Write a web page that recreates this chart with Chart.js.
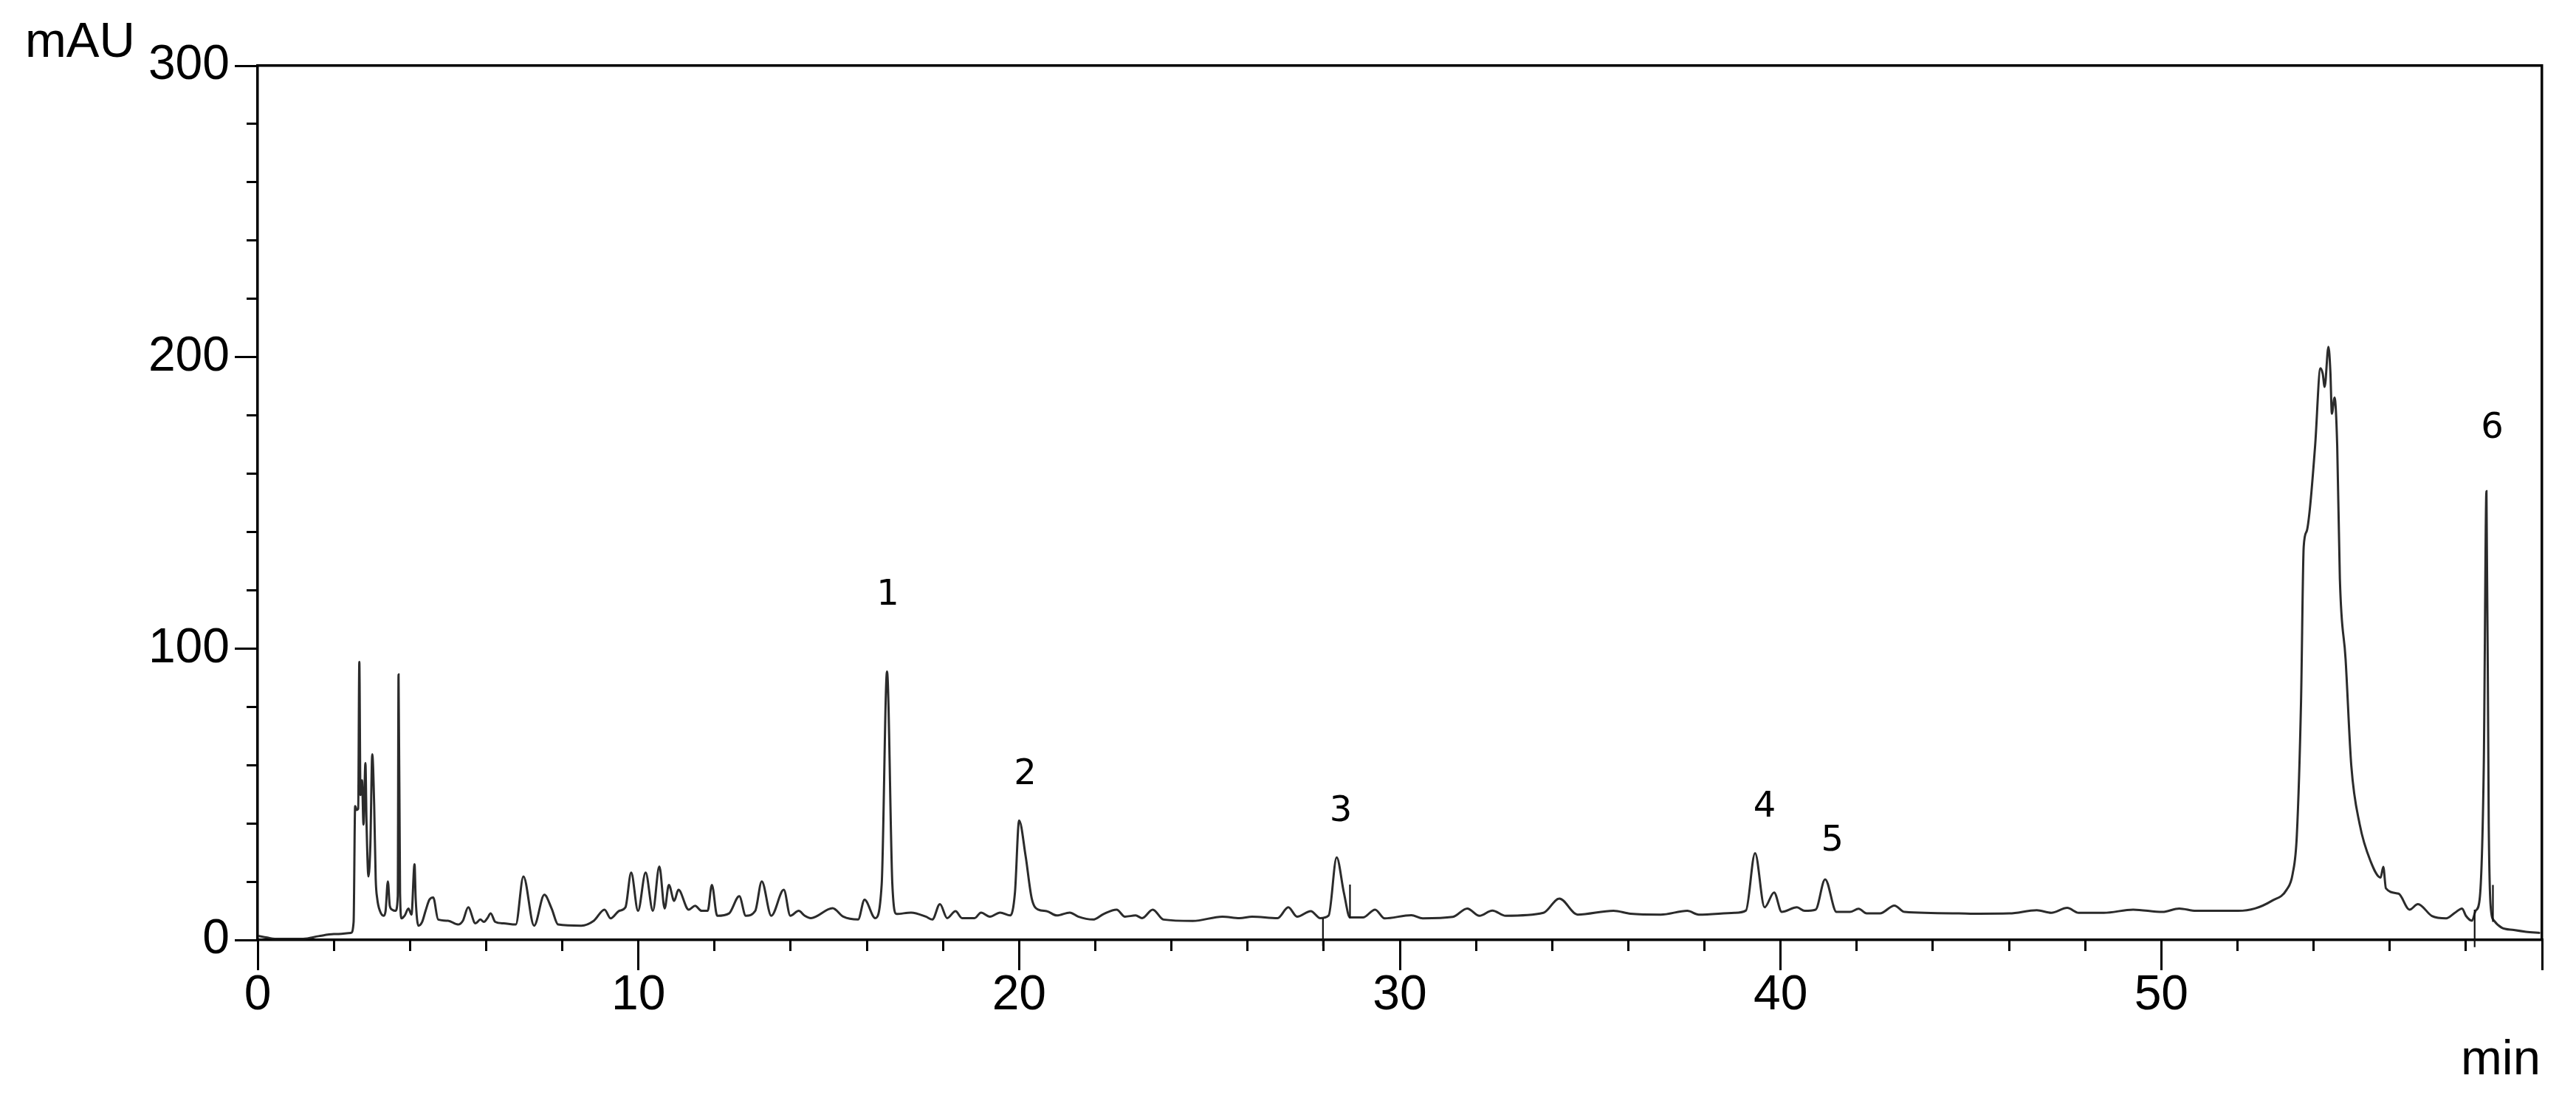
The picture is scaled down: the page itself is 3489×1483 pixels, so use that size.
<!DOCTYPE html>
<html>
<head>
<meta charset="utf-8">
<script src="https://cdn.jsdelivr.net/npm/chart.js@4.4.1/dist/chart.umd.min.js"></script>
<style>
  html, body { margin: 0; padding: 0; background: #fff; }
  #wrap { width: 3489px; height: 1483px; }
</style>
</head>
<body>
<div id="wrap"><canvas id="chromatogram" width="3489" height="1483"></canvas></div>
<script>
// retention time (min) and signal (mAU)
const retentionTime = [
  0, 0.25, 0.45, 1.2, 1.6, 2.0, 2.45,
  2.52, 2.56, 2.6, 2.64, 2.67, 2.7, 2.74, 2.78, 2.83, 2.86, 2.91, 2.96, 3.01, 3.06, 3.1,
  3.14, 3.21, 3.31, 3.36, 3.42, 3.47, 3.53, 3.62, 3.68, 3.7, 3.74, 3.78, 3.86, 3.96, 4.04,
  4.12, 4.15, 4.22, 4.32, 4.41, 4.51, 4.61, 4.74, 5.0, 5.26, 5.39, 5.53, 5.72, 5.85, 5.94, 6.03,
  6.12, 6.24, 6.46, 6.78, 6.98, 7.26, 7.53, 7.72, 7.89, 8.5, 8.83, 9.11, 9.27, 9.5, 9.66, 9.81, 9.99,
  10.19, 10.38, 10.55, 10.69, 10.8, 10.94, 11.05, 11.32, 11.49, 11.66, 11.82, 11.93, 12.07, 12.38, 12.65, 12.82,
  13.07, 13.24, 13.49, 13.82, 13.99, 14.21, 14.37, 14.53, 15.1, 15.38, 15.77, 15.94, 16.22, 16.39, 16.53, 16.67, 16.78,
  17.16, 17.55, 17.72, 17.92, 18.11, 18.33, 18.5, 18.83, 19.0, 19.23, 19.5, 19.77, 19.89, 20.0,
  20.17, 20.33, 20.5, 20.72, 20.99, 21.33, 21.55, 21.94, 22.22, 22.56, 22.78, 23.06, 23.23, 23.51, 23.79,
  24.56, 25.34, 25.79, 26.12, 26.79, 27.07, 27.3, 27.66, 27.91, 28.13, 28.34, 28.53, 28.69, 29.03, 29.35, 29.6,
  30.3, 30.6, 31.39, 31.77, 32.09, 32.43, 32.78, 33.77, 34.19, 34.67, 35.61, 36.06, 36.85, 37.55, 37.85, 38.79,
  39.09, 39.33, 39.58, 39.83, 40.03, 40.43, 40.63, 40.92, 41.17, 41.47, 41.82, 42.05, 42.26, 42.61, 42.99, 43.26,
  44.68, 45.07, 46.01, 46.73, 47.11, 47.53, 47.83, 48.49, 49.26, 50.03, 50.47, 50.91, 52.02, 52.46, 52.9,
  53.29, 53.45, 53.56, 53.67, 53.74, 53.82, 53.9, 54.04, 54.18, 54.24, 54.29, 54.39, 54.44, 54.48, 54.55, 54.62,
  54.69, 54.84, 54.99, 55.21, 55.5, 55.76, 55.83, 55.9, 56.23, 56.52, 56.74, 57.11, 57.48, 57.71, 57.9,
  58.0, 58.16, 58.26, 58.36, 58.47, 58.54, 58.6, 58.65, 58.74, 58.94, 59.26, 59.58, 59.95
];
const absorbance = [
  1.4, 0.8, 0.4, 0.4, 1.3, 2.0, 2.4,
  6.2, 45.9, 44.6, 45, 95.4, 49.7, 54.8, 39.6, 60.7, 39.6, 21.8, 32.8, 63.7, 46.3, 21,
  14.2, 10, 8.3, 10, 20.1, 11.7, 10.4, 10, 15, 91.1, 15.9, 7.4, 8.3, 10.8, 8.7,
  26, 14.2, 4.9, 6.2, 10, 13.8, 14.6, 7, 6.6, 5.3, 6.6, 11.2, 5.7, 7, 6.2, 7.4,
  9.1, 6.2, 5.7, 5.3, 21.8, 4.9, 15.5, 10.8, 5.3, 4.9, 6.6, 10.4, 7.4, 10, 11.2, 23.1, 10,
  23.1, 10, 25.2, 10.8, 18.9, 13.4, 17.2, 10.4, 11.7, 10, 10, 18.9, 8.3, 9.1, 15, 8.3,
  10, 20.1, 8.3, 17.2, 8.3, 10, 8.3, 7.5, 10.9, 8, 7, 13.8, 7.5, 19.1, 92.1, 19.1, 8.9,
  9.4, 8, 7, 12.3, 7.5, 9.9, 7.5, 7.5, 9.4, 8, 9.4, 8.4, 16.2, 41,
  28.8, 14.3, 10.4, 9.9, 8.4, 9.4, 8, 7, 8.9, 10.4, 8, 8.4, 7.5, 10.4, 7,
  6.5, 8, 7.5, 8, 7.5, 11.2, 8, 9.9, 7.5, 8.4, 28.3, 16.2, 7.7, 7.7, 10.4, 7.4,
  8.5, 7.4, 7.9, 10.8, 8.3, 10.1, 8.3, 9.3, 14.2, 8.7, 10, 9, 8.7, 10, 8.7, 9.3,
  10.1, 29.8, 11.2, 16.3, 9.6, 11.2, 10, 10.4, 20.8, 9.6, 9.6, 10.7, 9.1, 9.1, 11.8, 9.6,
  9.1, 9, 9.1, 10.2, 9.3, 11, 9.3, 9.3, 10.4, 9.6, 10.8, 10, 10, 10.8, 13.4,
  17.2, 22.7, 36, 81.8, 134.9, 140.3, 147.7, 169.6, 196.2, 194.3, 189.8, 203.5, 195.2, 180.6, 186.1, 169.6,
  123.9, 96.4, 59.8, 39.7, 26.9, 21.4, 25.1, 17.7, 15.9, 10.4, 12.3, 8.2, 7.4, 9.3, 10.8,
  8.3, 6.6, 10.1, 13.8, 60, 154, 40, 11.7, 6.6, 4.2, 3.4, 2.8, 2.4
];

// integration marks drawn by the data system (start/end of baseline)
const markTime = [27.98, 28.69, 58.23, 58.71];
const markLow = [-2, 7.5, -2.5, 6.2];
const markHigh = [7.5, 19, 10.4, 18.9];

// numbered peaks
const peakNames = ['1', '2', '3', '4', '5', '6'];
const peakLabelTime = [16.55, 20.16, 28.45, 39.58, 41.36, 58.69];
const peakLabelHeight = [118.2, 56.5, 43.9, 45.4, 33.7, 175.4];

// axes
const xMajorTicks = [0, 10, 20, 30, 40, 50, 60];
const xTickLabels = ['0', '10', '20', '30', '40', '50', ''];
const yMajorTicks = [0, 100, 200, 300];
const yTickLabels = ['0', '100', '200', '300'];
const xUnit = 'min';
const yUnit = 'mAU';

const axisFont = { family: '"Liberation Sans", Arial, sans-serif', size: 66, lineHeight: 1 };

const tracePoints = retentionTime.map((t, i) => ({ x: t, y: absorbance[i] }));
const markPoints = [];
markTime.forEach((t, i) => {
    markPoints.push({ x: t, y: markLow[i] }, { x: t, y: markHigh[i] }, { x: t, y: null });
});

// unit names and peak numbers
const textLayer = {
    id: 'textLayer',
    afterDatasetsDraw(chart) {
        const { ctx, chartArea, scales: { x, y } } = chart;
        ctx.save();
        ctx.fillStyle = '#000';
        ctx.font = '48px "DejaVu Sans", sans-serif';
        ctx.textAlign = 'center';
        ctx.textBaseline = 'middle';
        peakNames.forEach((name, i) => {
            ctx.fillText(name, x.getPixelForValue(peakLabelTime[i]), y.getPixelForValue(peakLabelHeight[i]));
        });
        ctx.font = '67px "Liberation Sans", Arial, sans-serif';
        ctx.textBaseline = 'alphabetic';
        ctx.textAlign = 'left';
        ctx.fillText(yUnit, chartArea.left - 315, chartArea.top - 12);
        ctx.textAlign = 'right';
        ctx.fillText(xUnit, chartArea.right - 2, chartArea.bottom + 182);
        ctx.restore();
    }
};

const ctx = document.getElementById('chromatogram').getContext('2d');
new Chart(ctx, {
    type: 'scatter',
    data: {
        datasets: [
            {
                data: tracePoints,
                showLine: true,
                borderColor: 'rgba(20,20,20,0.9)',
                borderWidth: 3,
                pointRadius: 0,
                cubicInterpolationMode: 'monotone'
            },
            {
                data: markPoints,
                showLine: true,
                spanGaps: false,
                borderColor: '#111',
                borderWidth: 2.2,
                pointRadius: 0,
                clip: false
            }
        ]
    },
    options: {
        responsive: false,
        animation: false,
        devicePixelRatio: 1,
        layout: { padding: { top: 89, right: 46, left: 0, bottom: 0 } },
        plugins: {
            legend: { display: false },
            tooltip: { enabled: false },
            title: { display: false }
        },
        scales: {
            x: {
                type: 'linear',
                position: 'bottom',
                min: 0,
                max: 60,
                afterBuildTicks: (scale) => { scale.ticks = xMajorTicks.map(v => ({ value: v })); },
                afterFit: (scale) => { scale.height = 210; },
                ticks: {
                    color: '#000',
                    font: axisFont,
                    padding: 2,
                    maxRotation: 0,
                    autoSkip: false,
                    callback: (value, index) => xTickLabels[index]
                },
                grid: { drawOnChartArea: false, tickLength: 41, lineWidth: 3, color: '#000' },
                border: { display: true, color: '#000', width: 3.5 }
            },
            xMinor: {
                type: 'linear',
                position: { y: 0 },
                min: 0,
                max: 60,
                ticks: { display: false, stepSize: 2 },
                grid: { drawOnChartArea: false, tickLength: 15, lineWidth: 3, color: '#000' },
                border: { display: false }
            },
            xTop: {
                type: 'linear',
                position: 'top',
                min: 0,
                max: 60,
                afterFit: (scale) => { scale.height = 0; },
                ticks: { display: false },
                grid: { drawOnChartArea: false, drawTicks: false },
                border: { display: true, color: '#000', width: 3.5 }
            },
            y: {
                type: 'linear',
                position: 'left',
                min: 0,
                max: 300,
                afterBuildTicks: (scale) => { scale.ticks = yMajorTicks.map(v => ({ value: v })); },
                afterFit: (scale) => { scale.width = 349; },
                ticks: {
                    color: '#000',
                    font: axisFont,
                    padding: 7,
                    callback: (value, index) => yTickLabels[index]
                },
                grid: { drawOnChartArea: false, tickLength: 31, lineWidth: 3, color: '#000' },
                border: { display: true, color: '#000', width: 3.5 }
            },
            yMinor: {
                type: 'linear',
                position: { x: 0 },
                min: 0,
                max: 300,
                ticks: { display: false, stepSize: 20 },
                grid: { drawOnChartArea: false, tickLength: 15, lineWidth: 3, color: '#000' },
                border: { display: false }
            },
            yRight: {
                type: 'linear',
                position: 'right',
                min: 0,
                max: 300,
                afterFit: (scale) => { scale.width = 0; },
                ticks: { display: false },
                grid: { drawOnChartArea: false, drawTicks: false },
                border: { display: true, color: '#000', width: 3.5 }
            }
        }
    },
    plugins: [textLayer]
});
</script>
</body>
</html>
